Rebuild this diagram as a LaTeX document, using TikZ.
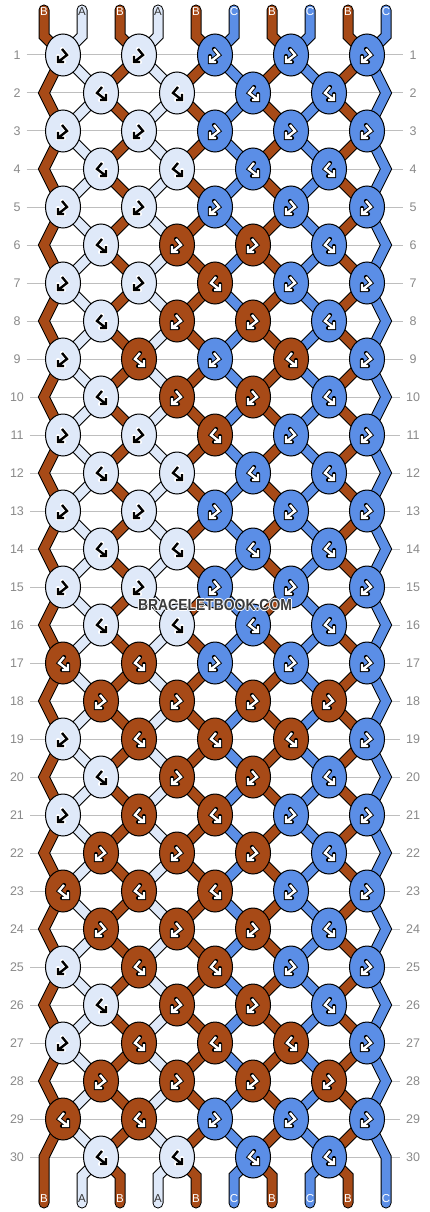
\documentclass[tikz,border=0pt]{standalone}
\usepackage{fontspec}
\setmainfont{Liberation Sans}
\setsansfont{Liberation Sans}
\usetikzlibrary{shapes.geometric}
\pgfdeclarelayer{back}
\pgfdeclarelayer{bg}
\pgfsetlayers{back,bg,main}
\definecolor{cA}{HTML}{DFE9F9}
\definecolor{cB}{HTML}{A74A17}
\definecolor{cC}{HTML}{5B8EE6}
\definecolor{gridc}{HTML}{BEBEBE}
\definecolor{lblc}{HTML}{8A8A8A}
\definecolor{wmc}{HTML}{3A3A3A}
\tikzset{
  knot/.style={ellipse, draw=black, line width=1, minimum width=35, minimum height=42, inner sep=0},
  strout/.style={draw=black, line width=11, line cap=round, line join=miter},
  strin/.style={line width=9, line cap=round, line join=miter},
  rowlbl/.style={text=lblc, font=\fontsize{12.5}{12.5}\selectfont, inner sep=0},
  strlbl/.style={font=\fontsize{11.5}{11.5}\selectfont, inner sep=0},
  gridline/.style={draw=gridc, line width=1},
}
\newcommand\kglyph[4]{%
  \begin{scope}[shift={(#1)}, xscale=#2]
    \draw[draw=#4, line width=4.2, line cap=round, line join=miter] (1,-6) -- (-4,0) -- (5,7) (5,1) -- (5,7) -- (-1,7);
    \draw[draw=#3, line width=2.4, line join=miter] (1,-6) -- (-4,0) -- (5,7) (5,1) -- (5,7) -- (-1,7);
  \end{scope}}
\begin{document}
\begin{tikzpicture}[x=1pt, y=-1pt]
\begin{pgfonlayer}{back}
\fill[white] (0,0) rectangle (430,1212);
\end{pgfonlayer}
\useasboundingbox (0,0) rectangle (430,1212);
% knots
\foreach \r/\lst in {1/{A,A,C,C,C},2/{A,A,C,C},3/{A,A,C,C,C},4/{A,A,C,C},5/{A,A,C,C,C},
  6/{A,B,B,C},7/{A,A,B,C,C},8/{A,B,B,C},9/{A,B,C,B,C},10/{A,B,B,C},
  11/{A,A,B,C,C},12/{A,A,C,C},13/{A,A,C,C,C},14/{A,A,C,C},15/{A,A,C,C,C},
  16/{A,A,C,C},17/{B,B,C,C,C},18/{B,B,B,B},19/{A,B,B,B,C},20/{A,B,B,C},
  21/{A,B,B,C,C},22/{B,B,B,C},23/{B,B,B,C,C},24/{B,B,B,C},25/{A,B,B,C,C},
  26/{A,B,B,C},27/{A,B,B,B,C},28/{B,B,B,B},29/{B,B,C,C,C},30/{A,A,C,C}}{
  \pgfmathsetmacro\yy{55+38*(\r-1)}
  \ifodd\r\relax
    \def\xo{63}\def\off{1}\def\oddrow{1}
  \else
    \def\xo{101}\def\off{0}\def\oddrow{0}
    \coordinate (s1-\r) at (44,\yy);
    \coordinate (s10-\r) at (386,\yy);
  \fi
  \node[rowlbl] (rl\r) at (17,\yy) {\r};
  \node[rowlbl] (rr\r) at (413,\yy) {\r};
  \foreach \kc [count=\i] in \lst {
    \pgfmathsetmacro\xx{\xo+76*(\i-1)}
    \pgfmathtruncatemacro\pa{2*\i-\off}
    \pgfmathtruncatemacro\pb{\pa+1}
    \node[knot, fill=c\kc] (k\r-\i) at (\xx,\yy) {};
    \coordinate (s\pa-\r) at (k\r-\i.center);
    \coordinate (s\pb-\r) at (k\r-\i.center);
    \if\kc B
      \ifnum\oddrow=1 \def\sg{1}\else\def\sg{-1}\fi
    \else
      \ifnum\oddrow=1 \def\sg{-1}\else\def\sg{1}\fi
    \fi
    \if\kc A
      \kglyph{k\r-\i.center}{\sg}{black}{white}
    \else
      \kglyph{k\r-\i.center}{\sg}{white}{black}
    \fi
  }
}
% string ends
\foreach \p/\col/\lt in {1/cB/B,2/cA/A,3/cB/B,4/cA/A,5/cB/B,6/cC/C,7/cB/B,8/cC/C,9/cB/B,10/cC/C}{
  \pgfmathsetmacro\xp{44+38*(\p-1)}
  \coordinate (top\p) at (\xp,10);
  \coordinate (tb\p) at (\xp,36);
  \coordinate (bb\p) at (\xp,1176);
  \coordinate (bot\p) at (\xp,1203);
  \if\lt A \def\tc{black!80}\else\def\tc{white}\fi
  \node[strlbl, text=\tc] (tl\p) at (\xp,12) {\lt};
  \node[strlbl, text=\tc] (bl\p) at (\xp,1199) {\lt};
}
\begin{pgfonlayer}{bg}
  \foreach \r in {1,...,30}{
    \draw[gridline] ([xshift=6]rl\r.east) -- ([xshift=-6]rr\r.west);
  }
  \foreach \p/\col in {1/cB,2/cA,3/cB,4/cA,5/cB,6/cC,7/cB,8/cC,9/cB,10/cC}{
    \draw[strout] (top\p) -- (tb\p) \foreach \r in {1,...,30}{ -- (s\p-\r) } -- (bb\p) -- (bot\p);
    \draw[strin, draw=\col] (top\p) -- (tb\p) \foreach \r in {1,...,30}{ -- (s\p-\r) } -- (bb\p) -- (bot\p);
  }
\end{pgfonlayer}
% watermark
\foreach \dx/\dy in {-1/0,1/0,0/-1,0/1}{
  \node[font=\bfseries\fontsize{16}{16}\selectfont, text=white, inner sep=0] at (215+\dx,605+\dy) {\scalebox{0.87}[1]{BRACELETBOOK.COM}};
}
\node[font=\bfseries\fontsize{16}{16}\selectfont, text=wmc, inner sep=0] (wm) at (215,605) {\scalebox{0.87}[1]{BRACELETBOOK.COM}};
\end{tikzpicture}
\end{document}
